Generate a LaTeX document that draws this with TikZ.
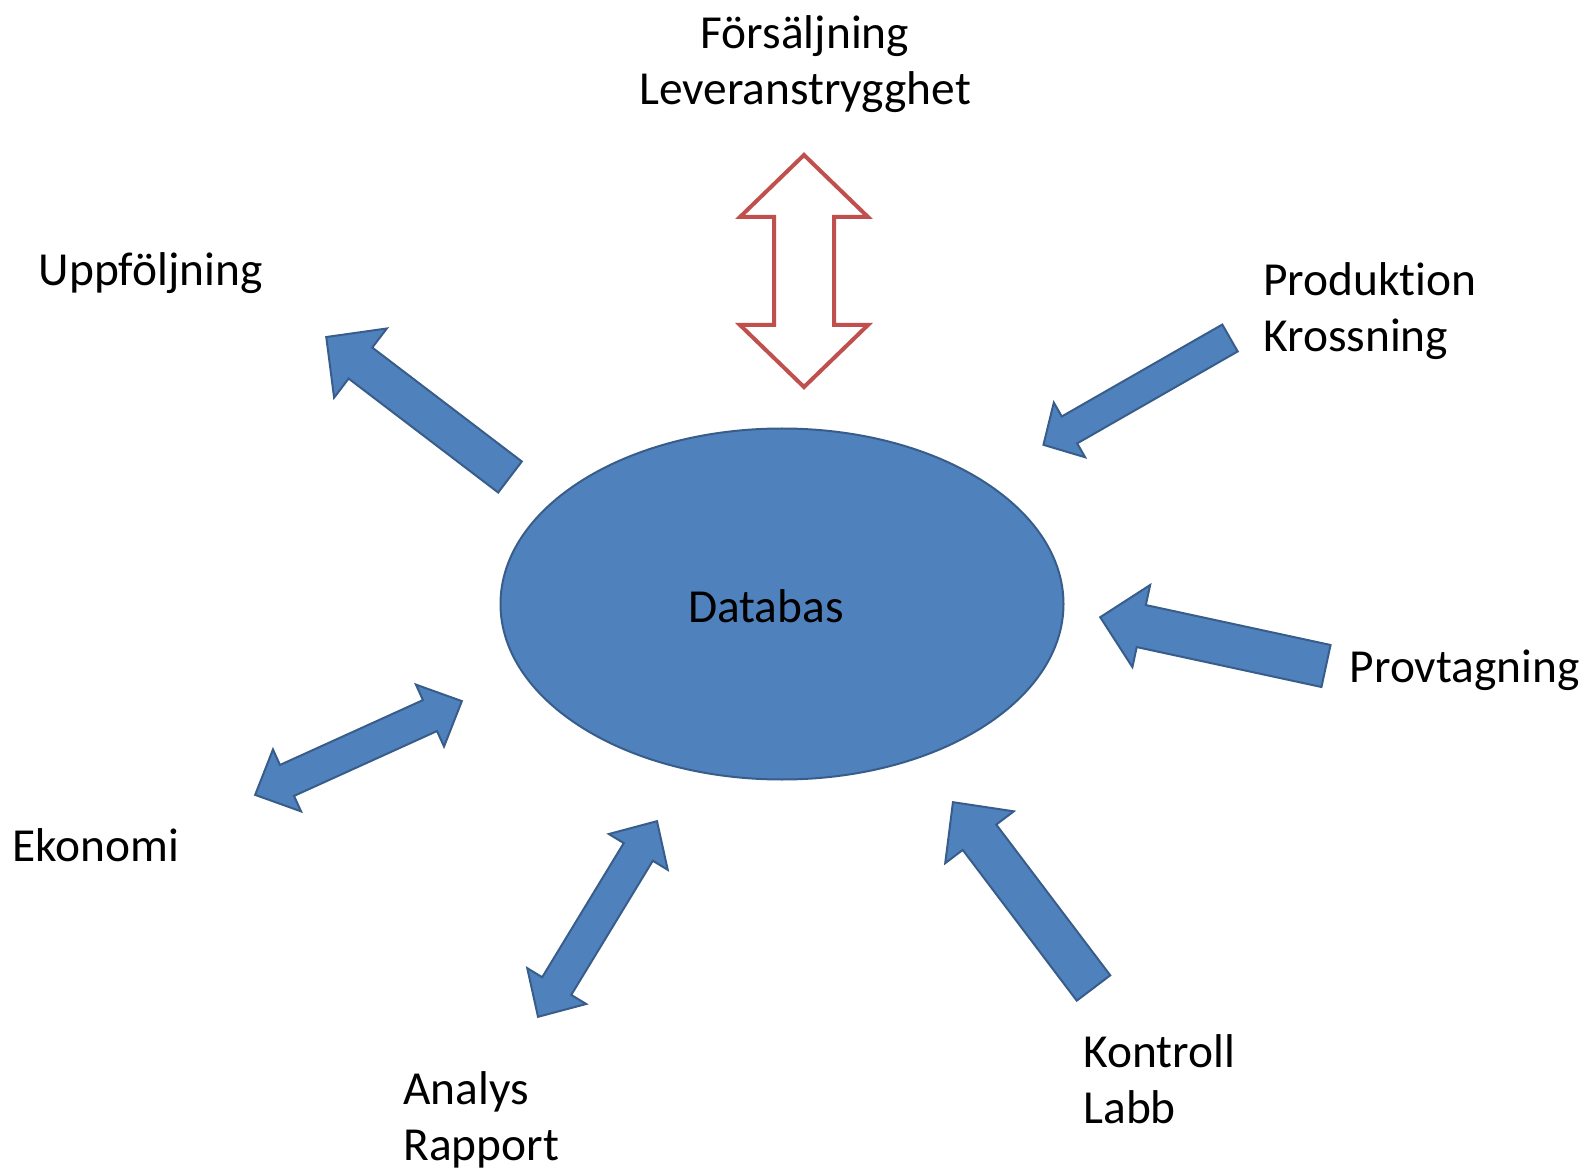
\documentclass[tikz,border=0pt]{standalone}
\usepackage{fontspec}
\setmainfont{Carlito}[RawFeature={-liga;-clig;-calt}]
\usetikzlibrary{shapes.geometric}

\definecolor{officeblue}{HTML}{4F81BD}
\definecolor{officeline}{HTML}{385D8A}
\definecolor{officered}{HTML}{C0504D}

% tail x, tail y, angle, length, shaft half width, head half width, head length
\newcommand{\blockarrow}[7]{%
  \draw[bluearrow,shift={(#1,#2)},rotate=#3]
    (0,-#5) -- ({#4-#7},-#5) -- ({#4-#7},-#6) -- (#4,0)
    -- ({#4-#7},#6) -- ({#4-#7},#5) -- (0,#5) -- cycle;}
% style, centre x, centre y, angle, half length, shaft half width, head half width, head length
\newcommand{\twowayarrow}[8]{%
  \draw[#1,shift={(#2,#3)},rotate=#4]
    (-#5,0) -- ({-#5+#8},#7) -- ({-#5+#8},#6) -- ({#5-#8},#6) -- ({#5-#8},#7) -- (#5,0)
    -- ({#5-#8},-#7) -- ({#5-#8},-#6) -- ({-#5+#8},-#6) -- ({-#5+#8},-#7) -- cycle;}

\tikzset{
  bluearrow/.style={fill=officeblue, draw=officeline, line width=1pt, line join=miter},
  redarrow/.style={fill=white, draw=officered, line width=2pt, line join=miter},
  database/.style={ellipse, fill=officeblue, draw=officeline, line width=1pt,
    minimum width=281.5pt, minimum height=175.5pt, inner sep=0pt},
  lbl/.style={inner sep=0pt, font=\fontsize{23.7}{28}\selectfont}
}

\begin{document}
\begin{tikzpicture}[x=0.5pt,y=-0.5pt]
  \useasboundingbox (0,0) rectangle (1591,1171);

  % centre
  \node[database] (db) at (782,604) {};
  \node[lbl] (dbtext) at (766,606) {Databas};

  % labels
  \node[lbl, align=center] (sales) at (805,64.5) {Försäljning\\Leveranstrygghet};
  \node[lbl, anchor=west] (follow) at (38.6,273) {Uppföljning};
  \node[lbl, anchor=west, align=left] (prod) at (1263,311.5) {Produktion\\Krossning};
  \node[lbl, anchor=west] (sample) at (1349.5,670.5) {Provtagning};
  \node[lbl, anchor=west] (econ) at (12,845) {Ekonomi};
  \node[lbl, anchor=west, align=left] (report) at (403,1120) {Analys\\Rapport};
  \node[lbl, anchor=west, align=left] (lab) at (1083,1079) {Kontroll\\Labb};

  % arrows
  \twowayarrow{redarrow}{804}{271}{90}{116}{30}{64}{62}
  \blockarrow{510}{477}{142.7}{231}{19.5}{43.5}{43}
  \blockarrow{1230}{338}{209.8}{215}{15.5}{31.5}{30}
  \blockarrow{1326}{666}{167.8}{231}{21.5}{42}{42}
  \blockarrow{1093.5}{988}{127.1}{233}{21}{43}{44}
  \twowayarrow{bluearrow}{358.5}{748}{24.4}{113.5}{17}{34}{35}
  \twowayarrow{bluearrow}{597.5}{919}{58.7}{114.5}{17}{34.5}{36}
\end{tikzpicture}
\end{document}
